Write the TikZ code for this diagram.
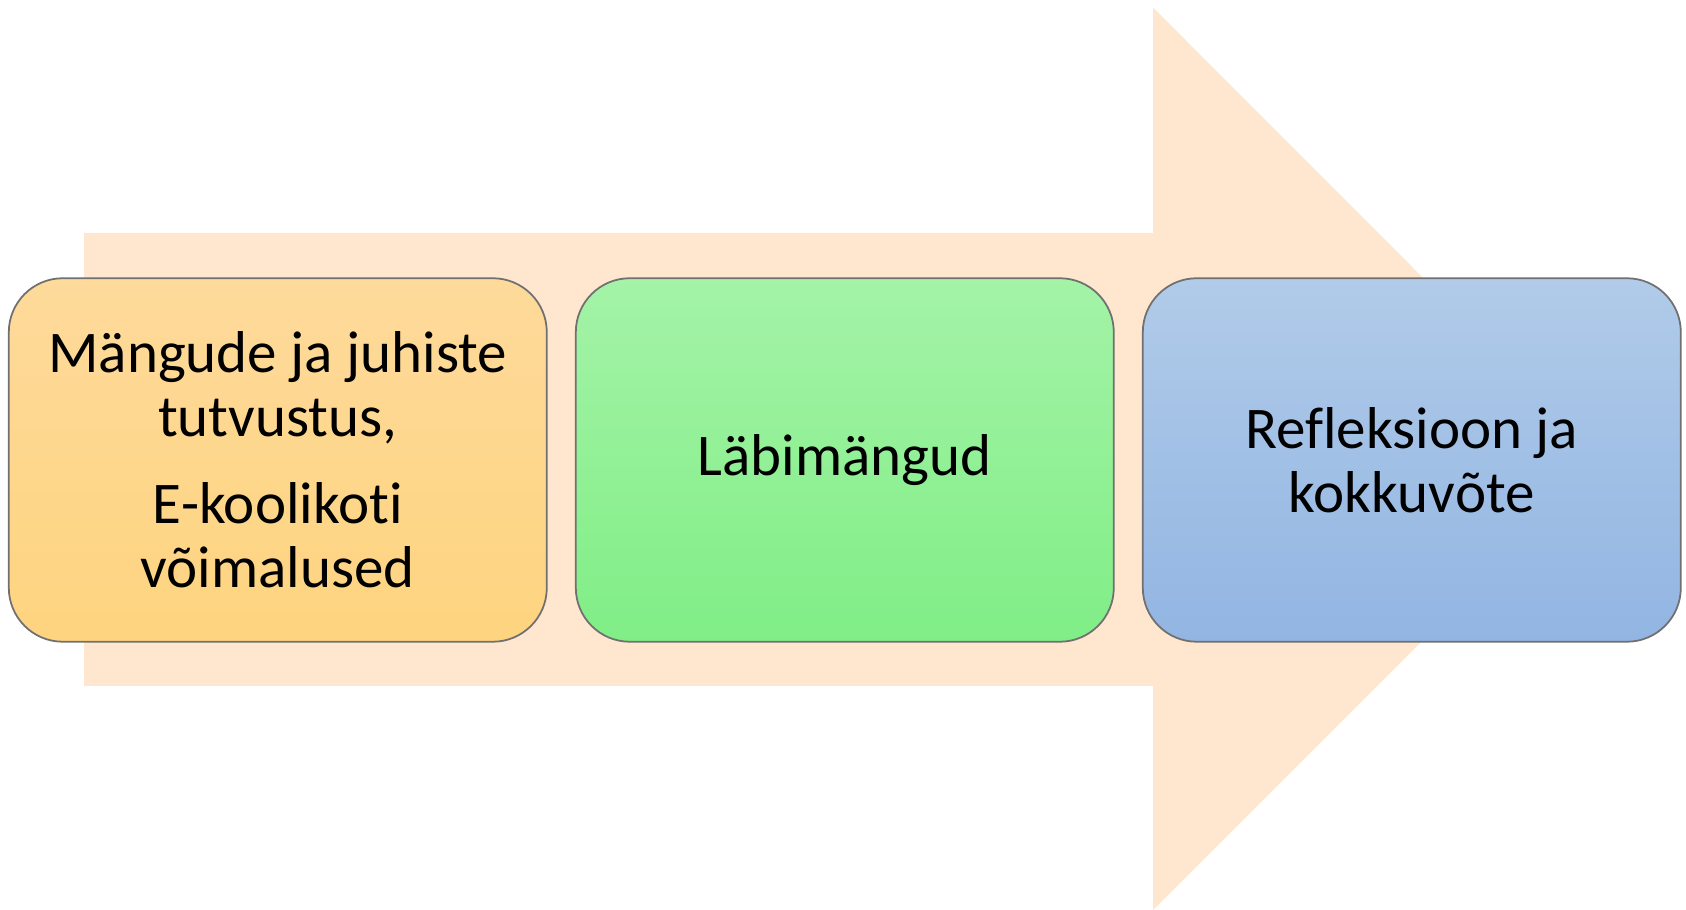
\documentclass[tikz,border=0pt]{standalone}
\usepackage{fontspec}
\setmainfont{Carlito}[Ligatures=NoCommon]
\usepackage{xcolor}
\usepackage{tikz}
\usetikzlibrary{positioning}
\definecolor{myarrow}{RGB}{254,231,206}
\definecolor{myedge}{RGB}{112,112,112}
\definecolor{orangetop}{RGB}{254,218,155}
\definecolor{orangebot}{RGB}{254,212,127}
\definecolor{greentop}{RGB}{164,243,167}
\definecolor{greenbot}{RGB}{128,238,134}
\definecolor{bluetop}{RGB}{177,203,233}
\definecolor{bluebot}{RGB}{146,181,226}

\begin{document}
\begin{tikzpicture}[
        box/.style={draw=myedge, line width=0.5pt, rounded corners=0.54cm,
                    minimum width=5.38cm, minimum height=3.635cm,
                    inner sep=0pt, outer sep=0pt, align=center,
                    font=\fontsize{16.8}{18.2}\selectfont},
        o/.style={box, top color=orangetop, bottom color=orangebot},
        g/.style={box, top color=greentop, bottom color=greenbot},
        b/.style={box, top color=bluetop, bottom color=bluebot},
        node distance=0.29cm
      ]
        \useasboundingbox (0,0) rectangle (16.86,9.10);
        % big arrow behind the steps
        \fill[myarrow] (0.84,6.77) -- (11.53,6.77) -- (11.53,9.025)
              -- (16.04,4.51) -- (11.53,0) -- (11.53,2.24)
              -- (0.84,2.24) -- cycle;
        \node[o] (s1) at (2.778,4.50)
              {Mängude ja juhiste\\ tutvustus,\\[6.5pt]
               E-koolikoti\\ võimalused};
        \node[g, right=of s1] (s2) {Läbimängud};
        \node[b, right=of s2] (s3) {Refleksioon ja\\ kokkuvõte};
      \end{tikzpicture}
\end{document}
